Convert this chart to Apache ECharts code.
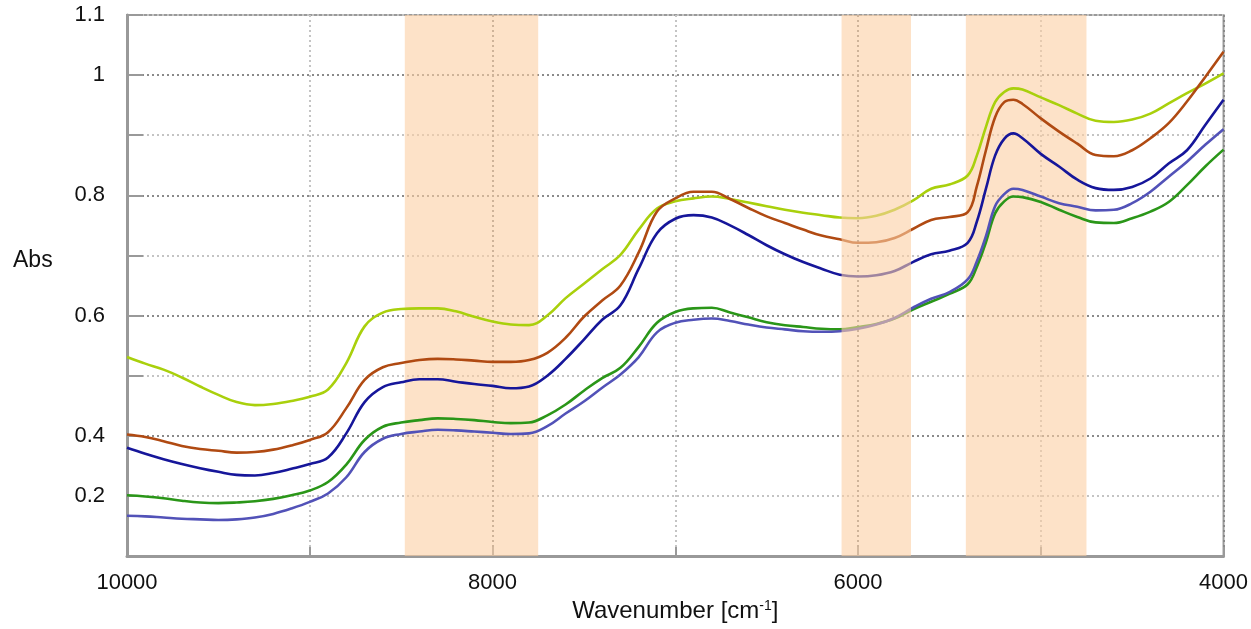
<!DOCTYPE html>
<html>
<head>
<meta charset="utf-8">
<script src="https://cdn.jsdelivr.net/npm/echarts@6/dist/echarts.min.js"></script>
<style>
    html, body { margin: 0; padding: 0; background: #fff; }
    #main { width: 1251px; height: 629px; }
</style>
</head>
<body>
<div id="main"></div>
<script>
// wavenumber grid (cm-1), plotted high -> low, a bit finer around the 5200 peak
var wavenumbers = [10000, 9900, 9800, 9700, 9600, 9500, 9400, 9300, 9200, 9100,
    9000, 8900, 8800, 8700, 8600, 8500, 8400, 8300, 8200, 8100,
    8000, 7900, 7800, 7700, 7600, 7500, 7400, 7300, 7200, 7100,
    7000, 6900, 6800, 6700, 6600, 6500, 6400, 6300, 6200, 6100,
    6000, 5900, 5800, 5700, 5600, 5500, 5400, 5350, 5300, 5250, 5200, 5150, 5100,
    5000, 4900, 4800, 4700, 4600, 4500, 4400, 4300, 4200, 4100, 4000];

var absYellowGreen = [0.531, 0.520, 0.510, 0.497, 0.482, 0.468, 0.456, 0.451, 0.453, 0.458,
    0.465, 0.477, 0.521, 0.582, 0.605, 0.611, 0.612, 0.612, 0.607, 0.598,
    0.590, 0.585, 0.584, 0.600, 0.629, 0.653, 0.677, 0.701, 0.743, 0.778,
    0.790, 0.795, 0.798, 0.794, 0.788, 0.782, 0.776, 0.771, 0.767, 0.763,
    0.762, 0.766, 0.776, 0.791, 0.811, 0.818, 0.833, 0.866, 0.914, 0.955, 0.972, 0.978, 0.976,
    0.963, 0.950, 0.936, 0.924, 0.922, 0.926, 0.936, 0.953, 0.970, 0.986, 1.003];

var absBrown = [0.402, 0.398, 0.391, 0.383, 0.378, 0.375, 0.372, 0.373, 0.377, 0.384,
    0.393, 0.406, 0.446, 0.493, 0.514, 0.521, 0.526, 0.528, 0.527, 0.525,
    0.523, 0.523, 0.526, 0.538, 0.563, 0.598, 0.625, 0.650, 0.705, 0.773,
    0.795, 0.806, 0.806, 0.794, 0.779, 0.765, 0.754, 0.743, 0.733, 0.727,
    0.721, 0.722, 0.729, 0.744, 0.759, 0.764, 0.772, 0.815, 0.875, 0.930, 0.955, 0.959, 0.952,
    0.928, 0.906, 0.886, 0.867, 0.865, 0.875, 0.895, 0.920, 0.956, 0.997, 1.039];

var absNavy = [0.380, 0.370, 0.361, 0.353, 0.346, 0.340, 0.335, 0.334, 0.338, 0.345,
    0.353, 0.364, 0.404, 0.456, 0.481, 0.489, 0.494, 0.494, 0.490, 0.486,
    0.483, 0.479, 0.482, 0.500, 0.528, 0.560, 0.593, 0.617, 0.678, 0.737,
    0.761, 0.767, 0.763, 0.750, 0.734, 0.717, 0.702, 0.689, 0.678, 0.668,
    0.665, 0.667, 0.674, 0.689, 0.702, 0.708, 0.721, 0.756, 0.811, 0.866, 0.894, 0.903, 0.895,
    0.869, 0.848, 0.826, 0.812, 0.809, 0.814, 0.828, 0.853, 0.875, 0.917, 0.959];

var absGreen = [0.301, 0.299, 0.296, 0.292, 0.289, 0.288, 0.289, 0.291, 0.295, 0.301,
    0.309, 0.323, 0.352, 0.393, 0.415, 0.422, 0.426, 0.429, 0.428, 0.426,
    0.423, 0.421, 0.422, 0.434, 0.452, 0.475, 0.496, 0.513, 0.548, 0.588,
    0.606, 0.612, 0.613, 0.605, 0.597, 0.589, 0.584, 0.581, 0.578, 0.577,
    0.581, 0.586, 0.595, 0.610, 0.623, 0.636, 0.652, 0.681, 0.722, 0.770, 0.790, 0.798, 0.797,
    0.789, 0.776, 0.764, 0.755, 0.754, 0.762, 0.773, 0.789, 0.817, 0.848, 0.876];

var absViolet = [0.267, 0.266, 0.264, 0.262, 0.261, 0.260, 0.261, 0.264, 0.270, 0.279,
    0.290, 0.304, 0.331, 0.373, 0.395, 0.403, 0.407, 0.410, 0.409, 0.407,
    0.405, 0.403, 0.404, 0.416, 0.437, 0.457, 0.480, 0.502, 0.531, 0.572,
    0.588, 0.593, 0.595, 0.591, 0.585, 0.580, 0.577, 0.574, 0.573, 0.574,
    0.578, 0.585, 0.596, 0.613, 0.628, 0.639, 0.660, 0.690, 0.732, 0.782, 0.802, 0.811, 0.809,
    0.798, 0.787, 0.781, 0.775, 0.776, 0.787, 0.806, 0.831, 0.856, 0.884, 0.910];

// shaded wavenumber bands [from, to]
var bandsUnder = [[8480, 7750], [5410, 4750]];
var bandsOver = [[6090, 5710]];

// tick labels as printed on the original
var xTickValues = [10000, 8000, 6000, 4000];
var yTickValues = [1.1, 1.0, 0.8, 0.6, 0.4, 0.3];
var yTickLabels = ['1.1', '1', '0.8', '0.6', '0.4', '0.2'];

function pairs(vals) {
    return wavenumbers.map(function (w, i) { return [w, vals[i]]; });
}

function lineSeries(name, vals, color) {
    return {
        name: name,
        type: 'line',
        data: pairs(vals),
        showSymbol: false,
        smooth: 0.4,
        z: 3,
        lineStyle: { color: color, width: 2.6 },
        itemStyle: { color: color }
    };
}

function bandSeries(bands, color, z) {
    return {
        type: 'line',
        data: [],
        z: z,
        silent: true,
        markArea: {
            silent: true,
            z: z,
            itemStyle: { color: color },
            data: bands.map(function (b) { return [{ xAxis: b[0] }, { xAxis: b[1] }]; })
        }
    };
}

var myChart = echarts.init(document.getElementById('main'));

var option = {
    animation: false,
    textStyle: { fontFamily: 'Liberation Sans, Arial, sans-serif' },
    title: {
        text: 'Abs',
        left: 8,
        top: 244,
        textStyle: { fontSize: 23, fontWeight: 'normal', color: '#111' }
    },
    grid: {
        left: 127, right: 26, top: 15, bottom: 73,
        show: true, borderColor: '#9a9a9a', borderWidth: 2
    },
    xAxis: {
        type: 'value',
        inverse: true,
        min: 4000,
        max: 10000,
        interval: 1000,
        name: 'Wavenumber [cm{sup|-1}]',
        nameLocation: 'middle',
        nameGap: 40,
        nameTextStyle: {
            fontSize: 24, color: '#111',
            rich: { sup: { fontSize: 14, verticalAlign: 'top', padding: [0, 0, 10, 0], color: '#111' } }
        },
        axisLine: { lineStyle: { color: '#999', width: 3 } },
        axisTick: { inside: true, length: 9, lineStyle: { color: '#999', width: 2 } },
        axisLabel: {
            fontSize: 22, color: '#111', margin: 16,
            formatter: function (v) { return xTickValues.indexOf(v) >= 0 ? String(v) : ''; }
        },
        splitLine: { show: true, lineStyle: { color: ['#8a8a8a', '#c4c4c4'], type: [2, 3], width: 2 } }
    },
    yAxis: {
        type: 'value',
        min: 0.2,
        max: 1.1,
        interval: 0.1,
        axisLine: { show: true, lineStyle: { color: '#999', width: 3 } },
        axisTick: { show: true, inside: true, length: 16, lineStyle: { color: '#999', width: 2 } },
        axisLabel: {
            fontSize: 22, color: '#111', margin: 22,
            formatter: function (v) {
                for (var i = 0; i < yTickValues.length; i++) {
                    if (Math.abs(yTickValues[i] - v) < 1e-6) return yTickLabels[i];
                }
                return '';
            }
        },
        splitLine: { show: true, lineStyle: { color: ['#8a8a8a', '#c4c4c4'], type: [2, 3], width: 2 } }
    },
    series: [
        bandSeries(bandsUnder, 'rgba(252, 207, 163, 0.6)', 1),
        lineSeries('A', absYellowGreen, '#a9d00c'),
        lineSeries('B', absBrown, '#b04a12'),
        lineSeries('C', absNavy, '#16169a'),
        lineSeries('D', absGreen, '#2a9618'),
        lineSeries('E', absViolet, '#5252b8'),
        bandSeries(bandsOver, 'rgba(252, 207, 163, 0.6)', 5)
    ]
};

myChart.setOption(option);
</script>
</body>
</html>
